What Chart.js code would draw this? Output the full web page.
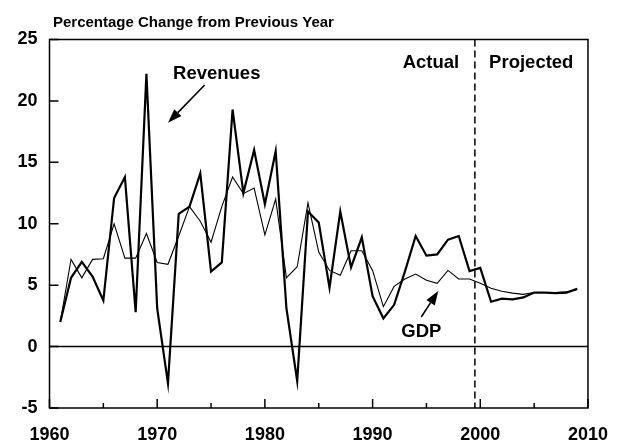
<!DOCTYPE html>
<html>
<head>
<meta charset="utf-8">
<script src="https://cdn.jsdelivr.net/npm/chart.js@4.4.1/dist/chart.umd.min.js"></script>
<style>
  html, body { margin: 0; padding: 0; background: #fff; }
</style>
</head>
<body>
<canvas id="chart" width="624" height="443"></canvas>
<script>
const years = [1961, 1962, 1963, 1964, 1965, 1966, 1967, 1968, 1969, 1970,
               1971, 1972, 1973, 1974, 1975, 1976, 1977, 1978, 1979, 1980,
               1981, 1982, 1983, 1984, 1985, 1986, 1987, 1988, 1989, 1990,
               1991, 1992, 1993, 1994, 1995, 1996, 1997, 1998, 1999, 2000,
               2001, 2002, 2003, 2004, 2005, 2006, 2007, 2008, 2009];
const revenues = [2.0, 5.6, 6.9, 5.7, 3.75, 12.1, 13.8, 2.8, 22.2, 3.1,
                  -3.0, 10.8, 11.4, 14.1, 6.1, 6.85, 19.3, 12.5, 16.0, 11.6,
                  15.9, 3.1, -2.8, 11.0, 10.1, 4.8, 11.0, 6.45, 8.9, 4.1,
                  2.3, 3.4, 6.1, 9.0, 7.4, 7.5, 8.7, 9.0, 6.15, 6.4,
                  3.65, 3.9, 3.85, 4.0, 4.4, 4.4, 4.35, 4.4, 4.7];
const gdp = [2.0, 7.1, 5.6, 7.1, 7.15, 10.0, 7.2, 7.2, 9.2, 6.85,
             6.7, 9.0, 11.4, 10.2, 8.5, 11.4, 13.8, 12.45, 12.9, 9.1,
             12.0, 5.6, 6.5, 11.7, 7.7, 6.2, 5.8, 7.8, 7.8, 6.2,
             3.25, 4.9, 5.5, 5.9, 5.4, 5.15, 6.2, 5.5, 5.5, 5.15,
             4.75, 4.5, 4.35, 4.25, 4.4, 4.4, 4.4, 4.45, 4.65];
const xRange = [1960, 2010];
const yRange = [-5, 25];
const majorYears = [1960, 1970, 1980, 1990, 2000, 2010];
const minorYears = [1965, 1975, 1985, 1995, 2005];
const yTickValues = [-5, 0, 5, 10, 15, 20, 25];
const projectionStart = 1999.5;

const FONT = '"Liberation Sans", Arial, sans-serif';

function arrow(ctx, x1, y1, x2, y2) {
    const ang = Math.atan2(y2 - y1, x2 - x1);
    const len = 14, half = 5;
    const bx = x2 - len * Math.cos(ang), by = y2 - len * Math.sin(ang);
    ctx.lineWidth = 1.6;
    ctx.beginPath();
    ctx.moveTo(x1, y1);
    ctx.lineTo(bx, by);
    ctx.stroke();
    ctx.beginPath();
    ctx.moveTo(x2, y2);
    ctx.lineTo(bx + half * Math.sin(ang), by - half * Math.cos(ang));
    ctx.lineTo(bx - half * Math.sin(ang), by + half * Math.cos(ang));
    ctx.closePath();
    ctx.fill();
}

const decor = {
    id: 'decor',
    beforeDatasetsDraw(chart) {
        const { ctx, chartArea: a, scales: { x, y } } = chart;
        ctx.save();
        ctx.strokeStyle = '#000';
        ctx.lineWidth = 1.5;
        // zero line
        const y0 = y.getPixelForValue(0);
        ctx.beginPath();
        ctx.moveTo(a.left, y0);
        ctx.lineTo(a.right, y0);
        ctx.stroke();
        // actual / projected divider
        const xd = x.getPixelForValue(projectionStart);
        ctx.setLineDash([7, 4]);
        ctx.beginPath();
        ctx.moveTo(xd, a.top);
        ctx.lineTo(xd, a.bottom);
        ctx.stroke();
        ctx.restore();
    },
    afterDraw(chart) {
        const { ctx, chartArea: a, scales: { x, y } } = chart;
        ctx.save();
        ctx.strokeStyle = '#000';
        ctx.fillStyle = '#000';
        ctx.lineWidth = 1.5;
        ctx.strokeRect(a.left, a.top, a.right - a.left, a.bottom - a.top);

        // inward ticks
        ctx.beginPath();
        yTickValues.forEach(v => {
            const py = y.getPixelForValue(v);
            ctx.moveTo(a.left, py);
            ctx.lineTo(a.left + 9, py);
        });
        majorYears.forEach(v => {
            const px = x.getPixelForValue(v);
            ctx.moveTo(px, a.bottom);
            ctx.lineTo(px, a.bottom - 9);
        });
        minorYears.forEach(v => {
            const px = x.getPixelForValue(v);
            ctx.moveTo(px, a.bottom);
            ctx.lineTo(px, a.bottom - 5);
        });
        ctx.stroke();

        // title
        ctx.font = 'bold 15px ' + FONT;
        ctx.textAlign = 'left';
        ctx.textBaseline = 'alphabetic';
        ctx.fillText('Percentage Change from Previous Year', 53, 27);

        // labels
        ctx.font = 'bold 18.5px ' + FONT;
        ctx.fillText('Revenues', x.getPixelForValue(1971.47), y.getPixelForValue(21.76));
        ctx.fillText('Projected', x.getPixelForValue(2000.82), y.getPixelForValue(22.66));
        ctx.fillText('GDP', x.getPixelForValue(1992.67), y.getPixelForValue(0.78));
        ctx.textAlign = 'right';
        ctx.fillText('Actual', x.getPixelForValue(1998.04), y.getPixelForValue(22.66));

        // arrows
        arrow(ctx, x.getPixelForValue(1974.41), y.getPixelForValue(21.3),
                   x.getPixelForValue(1971.01), y.getPixelForValue(18.23));
        arrow(ctx, x.getPixelForValue(1994.52), y.getPixelForValue(2.41),
                   x.getPixelForValue(1996.1), y.getPixelForValue(4.53));
        ctx.restore();
    }
};

new Chart(document.getElementById('chart').getContext('2d'), {
    type: 'line',
    data: {
        datasets: [
            {
                label: 'Revenues',
                data: years.map((yr, i) => ({ x: yr, y: revenues[i] })),
                borderColor: '#000',
                borderWidth: 2.2,
                pointRadius: 0,
                tension: 0
            },
            {
                label: 'GDP',
                data: years.map((yr, i) => ({ x: yr, y: gdp[i] })),
                borderColor: '#000',
                borderWidth: 1.1,
                pointRadius: 0,
                tension: 0
            }
        ]
    },
    options: {
        responsive: false,
        animation: false,
        devicePixelRatio: 1,
        layout: { padding: { top: 39.5, right: 35, bottom: 0, left: 0 } },
        plugins: {
            legend: { display: false },
            tooltip: { enabled: false }
        },
        scales: {
            x: {
                type: 'linear',
                min: xRange[0],
                max: xRange[1],
                grid: { display: false, drawTicks: false },
                border: { display: false },
                ticks: {
                    stepSize: 10,
                    padding: 16,
                    color: '#000',
                    font: { family: FONT, size: 18, weight: 'bold' },
                    callback: v => String(v)
                },
                afterFit: s => { s.height = 35; }
            },
            y: {
                min: yRange[0],
                max: yRange[1],
                grid: { display: false, drawTicks: false },
                border: { display: false },
                ticks: {
                    stepSize: 5,
                    padding: 12,
                    color: '#000',
                    font: { family: FONT, size: 18, weight: 'bold' }
                },
                afterFit: s => { s.width = 49.5; }
            }
        }
    },
    plugins: [decor]
});
</script>
</body>
</html>
